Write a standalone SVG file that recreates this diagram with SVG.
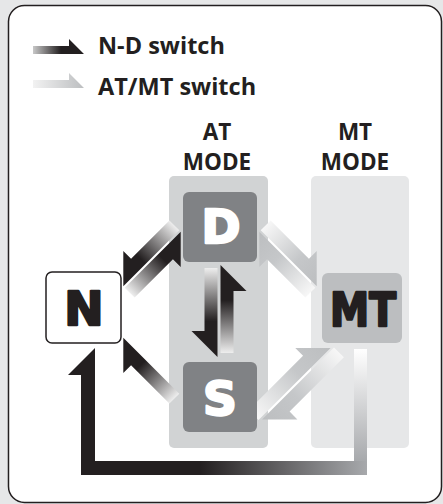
<svg xmlns="http://www.w3.org/2000/svg" width="443" height="504" viewBox="0 0 443 504">
<style>
.t{font-family:"Open Sans","Liberation Sans",sans-serif;font-weight:bold;fill:#231f20}
.leg{font-size:23.5px}
.hd{font-size:22.5px;text-anchor:middle}
.big{font-family:"DejaVu Sans","Liberation Sans",sans-serif;font-weight:bold;font-size:47px;text-anchor:middle;stroke-width:2.4;stroke-linejoin:round}
.dk{fill:url(#gD)}
.lt{fill:url(#gL)}
</style>
<defs>
<linearGradient id="gD" x1="0" y1="0" x2="1" y2="0">
<stop offset="0" stop-color="#eeeeee"/>
<stop offset="0.6" stop-color="#231f20"/>
<stop offset="1" stop-color="#231f20"/>
</linearGradient>
<linearGradient id="gL" x1="0" y1="0" x2="1" y2="0">
<stop offset="0" stop-color="#f7f7f7"/>
<stop offset="0.6" stop-color="#c5c7c9"/>
<stop offset="1" stop-color="#bcbec0"/>
</linearGradient>
<linearGradient id="gLegD" x1="0" y1="0" x2="1" y2="0">
<stop offset="0" stop-color="#c8c8c8"/>
<stop offset="0.55" stop-color="#231f20"/>
<stop offset="1" stop-color="#231f20"/>
</linearGradient>
<linearGradient id="gLegL" x1="0" y1="0" x2="1" y2="0">
<stop offset="0" stop-color="#f2f2f2"/>
<stop offset="1" stop-color="#bcbec0"/>
</linearGradient>
<linearGradient id="gLoopV" gradientUnits="userSpaceOnUse" x1="0" y1="349" x2="0" y2="461">
<stop offset="0" stop-color="#ffffff"/>
<stop offset="1" stop-color="#a7a9ac"/>
</linearGradient>
<linearGradient id="gLoopH" gradientUnits="userSpaceOnUse" x1="367" y1="0" x2="200" y2="0">
<stop offset="0" stop-color="#a7a9ac"/>
<stop offset="1" stop-color="#231f20"/>
</linearGradient>
</defs>
<rect width="443" height="504" fill="#e6e7e8"/>
<rect x="8.5" y="5.5" width="433" height="497" rx="16" fill="#ffffff" stroke="#231f20" stroke-width="1.5"/>
<g id="legend">
<polygon points="0,0 0,-8 36,-8 36,-15 51,0" fill="url(#gLegD)" transform="translate(33,54)"/>
<text class="t leg" x="98" y="54">N-D switch</text>
<polygon points="0,0 0,-8 36,-8 36,-15 51,0" fill="url(#gLegL)" transform="translate(33,88)"/>
<text class="t leg" x="98" y="95">AT/MT switch</text>
</g>
<g id="at-mode">
<rect x="169" y="176" width="99" height="272" rx="5" fill="#d1d3d4"/>
<text class="t hd" x="217" y="140">AT</text>
<text class="t hd" x="217" y="170">MODE</text>
</g>
<g id="mt-mode">
<rect x="311" y="176" width="98" height="272" rx="5" fill="#e6e7e8"/>
<text class="t hd" x="355" y="140">MT</text>
<text class="t hd" x="355" y="170">MODE</text>
</g>
<g id="connectors">
<polygon class="dk" points="0,0 0,14 54.2,14 54.2,25 79.2,0" transform="translate(179.3,230.3) rotate(135)"/>
<polygon class="dk" points="0,0 0,14 54.2,14 54.2,25 79.2,0" transform="translate(124.7,287.7) rotate(-45)"/>
<g transform="matrix(-1,0,0,1,440,0)">
<polygon class="lt" points="0,0 0,14 54.2,14 54.2,25 79.2,0" transform="translate(179.3,230.3) rotate(135)"/>
<polygon class="lt" points="0,0 0,14 54.2,14 54.2,25 79.2,0" transform="translate(124.7,287.7) rotate(-45)"/>
</g>
<g transform="matrix(1,0,0,-1,0,624)">
<polygon class="dk" points="0,0 0,14 54.2,14 54.2,25 79.2,0" transform="translate(179.3,230.3) rotate(135)"/>
</g>
<polygon class="lt" points="0,0 0,-14 77,-14 77,-25 102,0" transform="translate(258.5,420.1) rotate(-45)"/>
<polygon class="lt" points="0,0 0,-14 76.8,-14 76.8,-25 101.8,0" transform="translate(334,347.4) rotate(135)"/>
<polygon class="dk" points="0,0 0,13 63,13 63,26 89,0" transform="translate(217.5,268) rotate(90)"/>
<polygon class="dk" points="0,0 0,13 62,13 62,26 88,0" transform="translate(220.5,353) rotate(-90)"/>
<rect x="354" y="349" width="13" height="112" fill="url(#gLoopV)"/>
<polygon points="354,461 95,461 95,348 68,375 81,375 81,475 367,475 367,461" fill="url(#gLoopH)"/>
</g>
<g id="node-n">
<rect x="46" y="272" width="75" height="71" rx="6" fill="#ffffff" stroke="#231f20" stroke-width="1.5"/>
<text class="big" x="84" y="325" fill="#231f20" stroke="#231f20">N</text>
</g>
<g id="node-d">
<rect x="183" y="192" width="74" height="70" rx="6" fill="#808285"/>
<text class="big" x="221" y="243" fill="#ffffff" stroke="#ffffff">D</text>
</g>
<g id="node-s">
<rect x="183" y="362" width="74" height="70" rx="6" fill="#808285"/>
<text class="big" x="220" y="415" fill="#ffffff" stroke="#ffffff">S</text>
</g>
<g id="node-mt">
<rect x="322" y="273" width="80" height="70" rx="6" fill="#bcbec0"/>
<text class="big" x="363" y="326" fill="#231f20" stroke="#231f20" textLength="66" lengthAdjust="spacingAndGlyphs">MT</text>
</g>
</svg>
